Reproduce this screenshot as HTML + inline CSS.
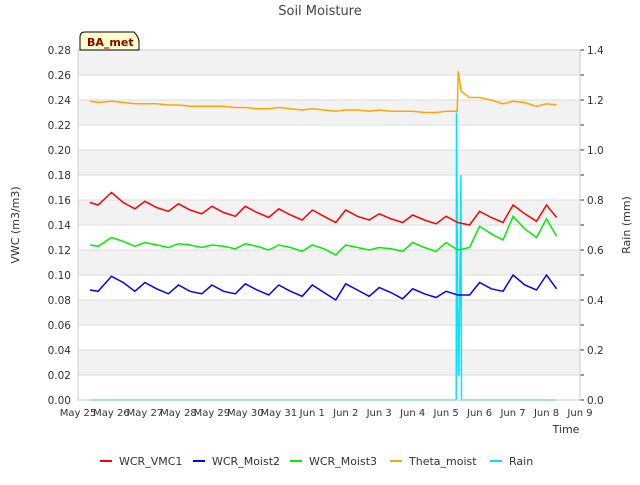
<!DOCTYPE html>
<html><head><meta charset="utf-8"><style>
body{margin:0;background:#fff;font-family:"Liberation Sans","DejaVu Sans",sans-serif}
</style></head><body>
<svg id="chart" width="640" height="480" xmlns="http://www.w3.org/2000/svg" font-family="DejaVu Sans, Liberation Sans, sans-serif">
<text x="320" y="15" text-anchor="middle" font-size="13" fill="#444">Soil Moisture</text>
<g id="bands"></g><g id="grid"></g><g id="series"></g><g id="axes"></g>
<g>
<path d="M80,50 L80,37 Q80,32 85,32 L134,32 Q139,37 139,42 L139,50 Z" fill="#ffffcc" stroke="#000" stroke-width="1"/>
<text x="87" y="46" font-size="11" font-weight="bold" fill="#8b0000">BA_met</text></g>
<text x="19" y="225" font-size="11" fill="#333" text-anchor="middle" transform="rotate(-90 19 225)">VWC (m3/m3)</text>
<text x="630" y="225" font-size="11" fill="#333" text-anchor="middle" transform="rotate(-90 630 225)">Rain (mm)</text>
<text x="566" y="433" font-size="11" fill="#333" text-anchor="middle">Time</text>
<g id="legend"></g>
</svg>
<script>
const tickLabels=["May 25","May 26","May 27","May 28","May 29","May 30","May 31","Jun 1","Jun 2","Jun 3","Jun 4","Jun 5","Jun 6","Jun 7","Jun 8","Jun 9"];
const yTicks=[0,0.02,0.04,0.06,0.08,0.10,0.12,0.14,0.16,0.18,0.20,0.22,0.24,0.26,0.28];
const y2Ticks=[0,0.2,0.4,0.6,0.8,1.0,1.2,1.4];
const times=[0.36,0.6,1,1.35,1.7,2,2.35,2.7,3,3.35,3.7,4,4.35,4.7,5,5.35,5.7,6,6.35,6.7,7,7.35,7.7,8,8.35,8.7,9,9.35,9.7,10,10.35,10.7,11,11.35,11.7,12,12.35,12.7,13,13.35,13.7,14,14.3];
const vmc1=[0.158,0.156,0.166,0.158,0.153,0.159,0.154,0.151,0.157,0.152,0.149,0.155,0.150,0.147,0.155,0.150,0.146,0.153,0.148,0.144,0.152,0.147,0.142,0.152,0.147,0.144,0.149,0.145,0.142,0.148,0.144,0.141,0.147,0.142,0.140,0.151,0.146,0.142,0.156,0.149,0.143,0.156,0.146];
const moist2=[0.088,0.087,0.099,0.094,0.087,0.094,0.089,0.085,0.092,0.087,0.085,0.092,0.087,0.085,0.093,0.088,0.084,0.092,0.087,0.083,0.092,0.086,0.080,0.093,0.088,0.083,0.090,0.086,0.081,0.089,0.085,0.082,0.087,0.084,0.084,0.094,0.089,0.087,0.100,0.092,0.088,0.100,0.089];
const moist3=[0.124,0.123,0.130,0.127,0.123,0.126,0.124,0.122,0.125,0.124,0.122,0.124,0.123,0.121,0.125,0.123,0.120,0.124,0.122,0.119,0.124,0.121,0.116,0.124,0.122,0.120,0.122,0.121,0.119,0.126,0.122,0.119,0.126,0.120,0.122,0.139,0.133,0.128,0.147,0.137,0.130,0.145,0.131];
const thetaTimes=[0.36,0.6,1,1.35,1.7,2,2.35,2.7,3,3.35,3.7,4,4.35,4.7,5,5.35,5.7,6,6.35,6.7,7,7.35,7.7,8,8.35,8.7,9,9.35,9.7,10,10.35,10.7,11,11.33,11.36,11.45,11.7,12,12.35,12.7,13,13.35,13.7,14,14.3];
const theta=[0.239,0.238,0.239,0.238,0.237,0.237,0.237,0.236,0.236,0.235,0.235,0.235,0.235,0.234,0.234,0.233,0.233,0.234,0.233,0.232,0.233,0.232,0.231,0.232,0.232,0.231,0.232,0.231,0.231,0.231,0.230,0.230,0.231,0.231,0.263,0.247,0.242,0.242,0.240,0.237,0.239,0.238,0.235,0.237,0.236];
const rainTimes=[0.36,11.30,11.31,11.36,11.38,11.44,11.46,14.3];
const rain=[0,0,1.15,0.1,0.1,0.9,0,0];
const L=78,R=580,T=50,B=400;
const xs=d=>L+d*(R-L)/15, ys=v=>B-v*(B-T)/0.28, y2s=v=>B-v*(B-T)/1.4;
const NS="http://www.w3.org/2000/svg";
function mk(tag,attrs,parent){const e=document.createElementNS(NS,tag);for(const k in attrs)e.setAttribute(k,attrs[k]);document.getElementById(parent).appendChild(e);return e;}
for(let i=0;i<yTicks.length-1;i++){if(i%2===1){const r=mk('rect',{x:L,y:ys(yTicks[i+1]),width:R-L,height:ys(yTicks[i])-ys(yTicks[i+1]),fill:'#f2f2f2'},'bands');

}}
yTicks.forEach(v=>{const l=mk('line',{x1:L,x2:R,y1:ys(v),y2:ys(v),stroke:'#dcdcdc','stroke-width':1},'grid');


const t=mk('text',{x:L-7,y:ys(v)+4,'text-anchor':'end','font-size':10.5,fill:'#333'},'axes');t.textContent=v.toFixed(2);

});
y2Ticks.forEach(v=>{const t=mk('text',{x:R+7,y:y2s(v)+4,'font-size':10.5,fill:'#333'},'axes');t.textContent=v.toFixed(1);


mk('line',{x1:R,x2:R+4,y1:y2s(v),y2:y2s(v),stroke:'#333'},'axes');
if(v<1.35)mk('line',{x1:R,x2:R+4,y1:y2s(v+0.1),y2:y2s(v+0.1),stroke:'#333'},'axes');});
tickLabels.forEach((s,i)=>{const t=mk('text',{x:xs(i),y:416,'text-anchor':'middle','font-size':10,fill:'#333'},'axes');t.textContent=s;

});
const fr=mk('rect',{x:L,y:T,width:R-L,height:B-T,fill:'none',stroke:'#ccc'},'axes');


function line(tt,vv,sc,color,name){const p=mk('polyline',{points:tt.map((t,i)=>xs(t).toFixed(1)+','+sc(vv[i]).toFixed(1)).join(' '),fill:'none',stroke:color,'stroke-width':1.5},'series');

}
line(rainTimes,rain,y2s,'#00e5ff','rain-line');
line(times,vmc1,ys,'#ff0000','wcr-vmc1-line');
line(times,moist2,ys,'#0000ff','wcr-moist2-line');
line(times,moist3,ys,'#00ee00','wcr-moist3-line');
line(thetaTimes,theta,ys,'#ffa500','theta-moist-line');
const leg=[["WCR_VMC1","#ff0000",100],["WCR_Moist2","#0000ff",193],["WCR_Moist3","#00ee00",290],["Theta_moist","#ffa500",390],["Rain","#00e5ff",490]];
leg.forEach(([n,c,x])=>{const g=mk('g',{},'legend');


const l=document.createElementNS(NS,'line');l.setAttribute('x1',x);l.setAttribute('x2',x+12);l.setAttribute('y1',461);l.setAttribute('y2',461);l.setAttribute('stroke',c);l.setAttribute('stroke-width',2);g.appendChild(l);
const t=document.createElementNS(NS,'text');t.setAttribute('x',x+19);t.setAttribute('y',465);t.setAttribute('font-size',11);t.setAttribute('fill','#333');t.textContent=n;g.appendChild(t);});
</script>
</body></html>
